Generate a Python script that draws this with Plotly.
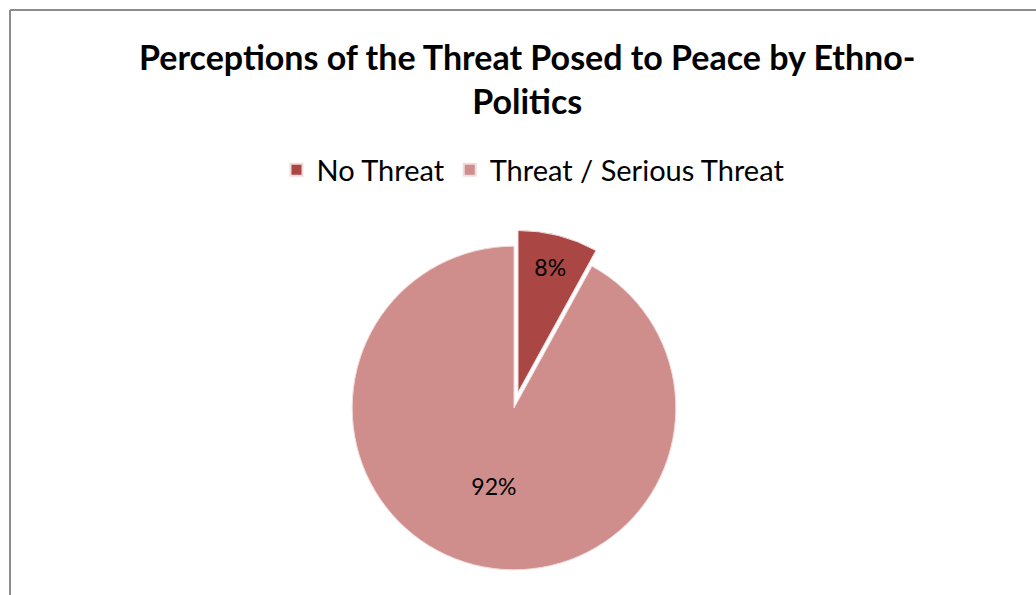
import plotly.graph_objects as go

labels = ["No Threat", "Threat / Serious Threat"]
values = [8, 92]
colors = ["#AA4644", "#CF8E8C"]
pulls = [0.1, 0]
title_text = "Perceptions of the Threat Posed to Peace by Ethno-<br>Politics"

W, H = 1036, 595
FONT = "Lato, Open Sans, sans-serif"

cx, cy, half = 514, 408, 178

fig = go.Figure()
fig.add_trace(go.Pie(
    labels=labels,
    values=values,
    marker=dict(colors=colors, line=dict(color="#F2DCDB", width=1)),
    pull=pulls,
    sort=False,
    direction="clockwise",
    rotation=0,
    textinfo="percent",
    texttemplate="%{percent:.0%}",
    textposition="inside",
    insidetextorientation="horizontal",
    textfont=dict(family=FONT, size=23, color="black"),
    domain=dict(x=[(cx - half) / W, (cx + half) / W],
                y=[1 - (cy + half) / H, 1 - (cy - half) / H]),
    hoverinfo="label+percent",
))

fig.add_annotation(
    text="<b>" + title_text + "</b>",
    x=527 / W, y=1 - 79 / H, xref="paper", yref="paper",
    xanchor="center", yanchor="middle", showarrow=False,
    font=dict(family=FONT, size=34, color="black"),
)

# chart border (top and left edges visible in reference)
fig.add_shape(type="line", xref="paper", yref="paper",
              x0=10 / W, x1=1, y0=1 - 10 / H, y1=1 - 10 / H,
              line=dict(color="#8C8C8C", width=2))
fig.add_shape(type="line", xref="paper", yref="paper",
              x0=10 / W, x1=10 / W, y0=0, y1=1 - 10 / H,
              line=dict(color="#8C8C8C", width=2))

fig.update_layout(
    width=W, height=H,
    margin=dict(l=0, r=0, t=0, b=0),
    paper_bgcolor="white",
    plot_bgcolor="white",
    showlegend=True,
    legend=dict(
        orientation="h",
        x=533 / W, y=1 - 170 / H, xanchor="center", yanchor="middle",
        font=dict(family=FONT, size=29, color="black"),
        itemsizing="constant",
        traceorder="normal",
    ),
)

fig.write_html("out.html",
               config={"displayModeBar": False},
               post_script="document.body.style.margin='0';document.body.style.overflow='hidden';")
